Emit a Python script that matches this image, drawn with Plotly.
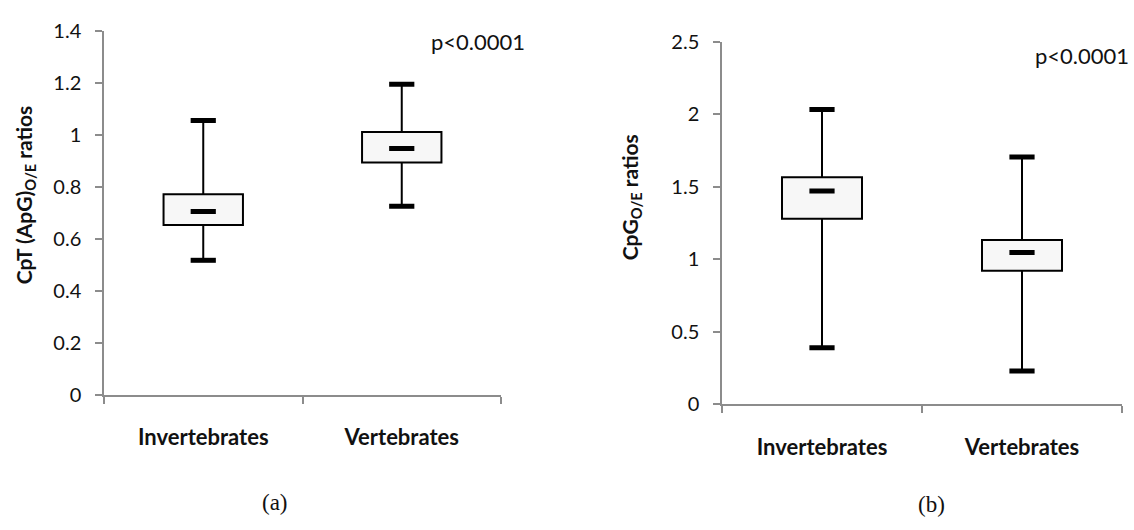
import plotly.graph_objects as go

# Box summaries (whisker low, Q1, median, Q3, whisker high) per group
categories = ["Invertebrates", "Vertebrates"]

cpt_low = [0.518, 0.726]
cpt_q1 = [0.654, 0.894]
cpt_median = [0.706, 0.948]
cpt_q3 = [0.772, 1.012]
cpt_high = [1.056, 1.196]

cpg_low = [0.39, 0.23]
cpg_q1 = [1.28, 0.922]
cpg_median = [1.471, 1.047]
cpg_q3 = [1.565, 1.133]
cpg_high = [2.033, 1.705]

W, H = 1134, 530
AXIS_GREY = "#8c8c8c"
TEXT = "#111111"
FONT = "Lato"


def add_boxplot(fig, xa, ya, low, q1, med, q3, high):
    # box body from Q1 to Q3
    fig.add_trace(go.Bar(
        x=categories, y=[b - a for a, b in zip(q1, q3)], base=q1, width=0.4,
        marker=dict(color="#f7f7f7", line=dict(color="black", width=2)),
        xaxis=xa, yaxis=ya, showlegend=False, hoverinfo="skip"))
    # whiskers outside the box
    wx, wy = [], []
    for c, lo, a, b, hi in zip(categories, low, q1, q3, high):
        wx += [c, c, None, c, c, None]
        wy += [b, hi, None, lo, a, None]
    fig.add_trace(go.Scatter(
        x=wx, y=wy, mode="lines", line=dict(color="black", width=2),
        xaxis=xa, yaxis=ya, showlegend=False, hoverinfo="skip"))
    # whisker caps
    fig.add_trace(go.Scatter(
        x=categories + categories, y=low + high, mode="markers",
        marker=dict(symbol="line-ew", size=18, line=dict(color="black", width=5)),
        xaxis=xa, yaxis=ya, showlegend=False, hoverinfo="skip"))
    # median marks
    fig.add_trace(go.Scatter(
        x=categories, y=med, mode="markers",
        marker=dict(symbol="line-ew", size=18, line=dict(color="black", width=5)),
        xaxis=xa, yaxis=ya, showlegend=False, hoverinfo="skip"))


fig = go.Figure()
add_boxplot(fig, "x", "y", cpt_low, cpt_q1, cpt_median, cpt_q3, cpt_high)
add_boxplot(fig, "x2", "y2", cpg_low, cpg_q1, cpg_median, cpg_q3, cpg_high)

xaxis_style = dict(
    type="category", showline=True, linecolor=AXIS_GREY, linewidth=1.5,
    ticks="outside", tickson="boundaries", ticklen=7, tickcolor=AXIS_GREY,
    tickwidth=1.5, showgrid=False, zeroline=False, range=[-0.5, 1.5],
    tickfont=dict(family=FONT, size=22, color=TEXT, weight="bold"),
    ticklabelstandoff=22, fixedrange=True)
yaxis_style = dict(
    showline=True, linecolor=AXIS_GREY, linewidth=1.5, ticks="outside",
    ticklen=7, tickwidth=1.5, tickcolor=AXIS_GREY, showgrid=False,
    zeroline=False, ticklabelstandoff=10,
    tickfont=dict(family=FONT, size=20, color=TEXT), fixedrange=True)

fig.update_layout(
    width=W, height=H, margin=dict(l=0, r=0, t=0, b=0),
    paper_bgcolor="white", plot_bgcolor="white", barmode="overlay",
    xaxis=dict(xaxis_style, domain=[104 / W, 501 / W], anchor="y"),
    yaxis=dict(yaxis_style, domain=[1 - 400 / H, 1 - 19 / H], range=[0, 1.4],
               dtick=0.2, anchor="x"),
    xaxis2=dict(xaxis_style, domain=[722 / W, 1122 / W], anchor="y2"),
    yaxis2=dict(yaxis_style, domain=[1 - 410 / H, 1 - 30 / H], range=[0, 2.5],
                dtick=0.5, anchor="x2"),
)

annotations = [
    dict(text="<b>CpT (ApG)<sub>O/E</sub> ratios</b>", x=25 / W, y=1 - 191 / H,
         textangle=-90, font=dict(size=21)),
    dict(text="<b>CpG<sub>O/E</sub> ratios</b>", x=631 / W, y=1 - 193 / H,
         textangle=-90, font=dict(size=21)),
    dict(text="p<0.0001", x=478 / W, y=1 - 30 / H, font=dict(size=22)),
    dict(text="p<0.0001", x=1082 / W, y=1 - 44 / H, font=dict(size=22)),
    dict(text="(a)", x=275 / W, y=1 - 513 / H,
         font=dict(size=23, family="Liberation Serif")),
    dict(text="(b)", x=931 / W, y=1 - 515 / H,
         font=dict(size=23, family="Liberation Serif")),
]
for a in annotations:
    font = dict(family=FONT, color=TEXT)
    font.update(a.pop("font"))
    fig.add_annotation(xref="paper", yref="paper", showarrow=False,
                       xanchor="center", yanchor="middle", font=font, **a)

fig.write_html("out.html")
